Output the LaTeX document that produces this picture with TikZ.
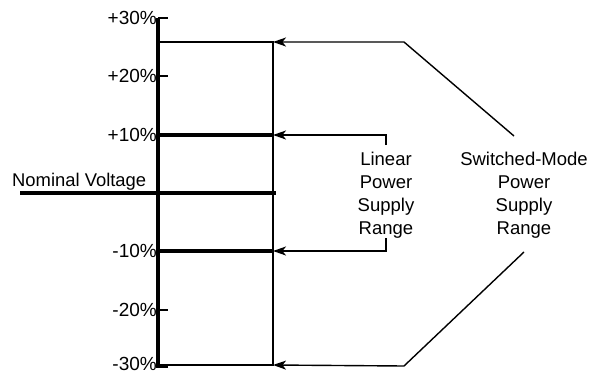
\documentclass[tikz,border=0pt]{standalone}
\usepackage{fontspec}
\setmainfont{Liberation Sans}
\usetikzlibrary{arrows.meta}
\begin{document}
\begin{tikzpicture}[x=1pt,y=-1pt,
  axisline/.style={line width=4.5pt},
  boldline/.style={line width=3.5pt},
  thinline/.style={line width=1.4pt},
  pointer/.style={line width=1.4pt,-{Stealth[length=13pt,width=9pt,inset=3.5pt]}},
  ticklabel/.style={anchor=base east,inner sep=0pt,font=\fontsize{19}{19}\selectfont},
  blocklabel/.style={align=center,inner sep=0pt,font=\fontsize{18.5}{23}\selectfont}]
\useasboundingbox (0,0) rectangle (592,375);
% axis
\coordinate (atop) at (158,18);
\coordinate (abot) at (158,368);
\draw[axisline] (atop) -- (abot);
% ticks and labels
\foreach \y/\b/\t/\n in {18/24/+30\%/p30,76/82/+20\%/p20,135/141/+10\%/p10,251/257/-10\%/m10,310/316/-20\%/m20,367/370/-30\%/m30}{
  \coordinate (t\n) at (158,\y);
  \coordinate (te\n) at (168,\y);
  \draw[line width=2.5pt] (t\n) -- (te\n);
  \node[ticklabel] (l\n) at (157,\b) {\t};
}
% range box
\coordinate (btl) at (158,42);
\coordinate (btr) at (273,42);
\coordinate (bbl) at (158,365);
\coordinate (bbr) at (273,365);
\draw[thinline] (btl) -- (btr) -- (bbr) -- (bbl);
% thick lines
\coordinate (p10r) at (273,135);
\coordinate (m10r) at (273,251);
\draw[boldline] (tp10) -- (p10r);
\draw[boldline] (tm10) -- (m10r);
\coordinate (nl) at (20,193);
\coordinate (nr) at (276,193);
\draw[boldline] (nl) -- (nr);
\node[anchor=base west,inner sep=0pt,font=\fontsize{18.4}{18}\selectfont] (nom) at (12,186) {Nominal Voltage};
% linear range
\node[blocklabel] (lin) at (386,195) {Linear\\Power\\Supply\\Range};
\coordinate (la) at (386,145);
\coordinate (lb) at (386,238);
\draw[pointer] (la) |- (p10r);
\draw[pointer] (lb) |- (m10r);
% switched mode
\node[blocklabel] (sw) at (524,195) {Switched-Mode\\Power\\Supply\\Range};
\coordinate (sa) at (514,136);
\coordinate (sk1) at (404,42);
\coordinate (sb) at (524,252);
\coordinate (sk2) at (404,366);
\draw[pointer] (sa) -- (sk1) -- (btr);
\draw[pointer] (sb) -- (sk2) -- (bbr);
\end{tikzpicture}
\end{document}
